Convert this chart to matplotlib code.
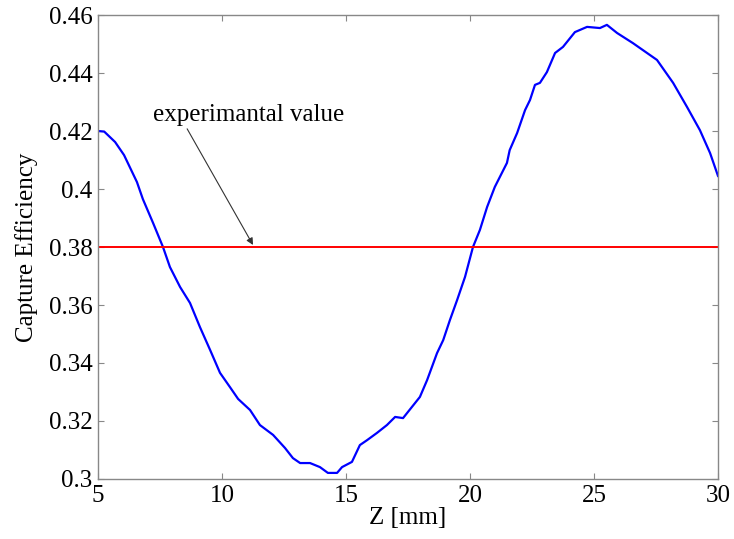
import matplotlib
matplotlib.use("Agg")
import matplotlib.pyplot as plt

z_mm = [5.0, 5.25, 5.69, 6.05, 6.57, 6.81, 7.22, 7.62, 7.9, 8.31, 8.71, 9.11, 9.52,
        9.92, 10.32, 10.65, 11.13, 11.53, 12.06, 12.54, 12.86, 13.15, 13.55, 13.95,
        14.27, 14.64, 14.84, 15.24, 15.56, 15.85, 16.25, 16.65, 16.98, 17.3, 17.98,
        18.27, 18.67, 18.92, 19.19, 19.48, 19.8, 20.12, 20.4, 20.69, 21.0, 21.49,
        21.6, 21.9, 22.22, 22.42, 22.62, 22.82, 23.1, 23.43, 23.75, 24.23, 24.72,
        25.24, 25.52, 25.93, 26.57, 27.54, 28.19, 28.75, 29.27, 29.68, 29.96, 30.0]
efficiency = [0.420, 0.4198, 0.4162, 0.4117, 0.4024, 0.3965, 0.3883, 0.380, 0.3731,
              0.3662, 0.3607, 0.3524, 0.3445, 0.3366, 0.3317, 0.3276, 0.3238, 0.3186,
              0.3152, 0.3107, 0.3072, 0.3055, 0.3055, 0.3041, 0.3021, 0.3021, 0.3041,
              0.3059, 0.3117, 0.3134, 0.3159, 0.3186, 0.3214, 0.3210, 0.3283, 0.3341,
              0.3434, 0.3479, 0.3548, 0.3617, 0.3697, 0.380, 0.3859, 0.3938, 0.4007,
              0.4090, 0.4134, 0.4193, 0.4272, 0.4307, 0.4359, 0.4366, 0.4403, 0.4469,
              0.4490, 0.4541, 0.4559, 0.4555, 0.4566, 0.4538, 0.4503, 0.4445, 0.4366,
              0.4283, 0.4203, 0.4124, 0.4055, 0.4045]
experimental_value = 0.38

x_ticks = [5, 10, 15, 20, 25, 30]
y_ticks = [0.30, 0.32, 0.34, 0.36, 0.38, 0.40, 0.42, 0.44, 0.46]
y_tick_labels = ["0.3", "0.32", "0.34", "0.36", "0.38", "0.4", "0.42", "0.44", "0.46"]

plt.rcParams["font.family"] = ["Liberation Serif", "DejaVu Serif"]

fig = plt.figure(figsize=(7.34, 5.39), dpi=100)
ax = fig.add_axes([98 / 734, 1 - 479 / 539, 620 / 734, 464 / 539])

ax.plot(z_mm, efficiency, color="#0000ff", lw=1.6)
ax.axhline(experimental_value, color="#ff0000", lw=1.4)

ax.set_xlim(5, 30)
ax.set_ylim(0.30, 0.46)
ax.set_xticks(x_ticks)
ax.set_xticklabels([str(t) for t in x_ticks])
ax.set_yticks(y_ticks)
ax.set_yticklabels(y_tick_labels)
ax.tick_params(direction="in", top=True, right=True, labelsize=18, length=4,
               color="#888888", pad=4)
for s in ax.spines.values():
    s.set_color("#888888")
    s.set_linewidth(1.0)

ax.set_xlabel("Z [mm]", fontsize=18, labelpad=0)
ax.set_ylabel("Capture Efficiency", fontsize=18, labelpad=8)

ax.annotate("experimantal value", xy=(11.25, 0.3807), xytext=(7.22, 0.4255),
            fontsize=18, ha="left", va="center",
            arrowprops=dict(arrowstyle="-|>", color="#333333", lw=0.8,
                            shrinkA=0, shrinkB=0, mutation_scale=10,
                            relpos=(0.17, 0.0)))

fig.savefig("out.png", dpi=100)
